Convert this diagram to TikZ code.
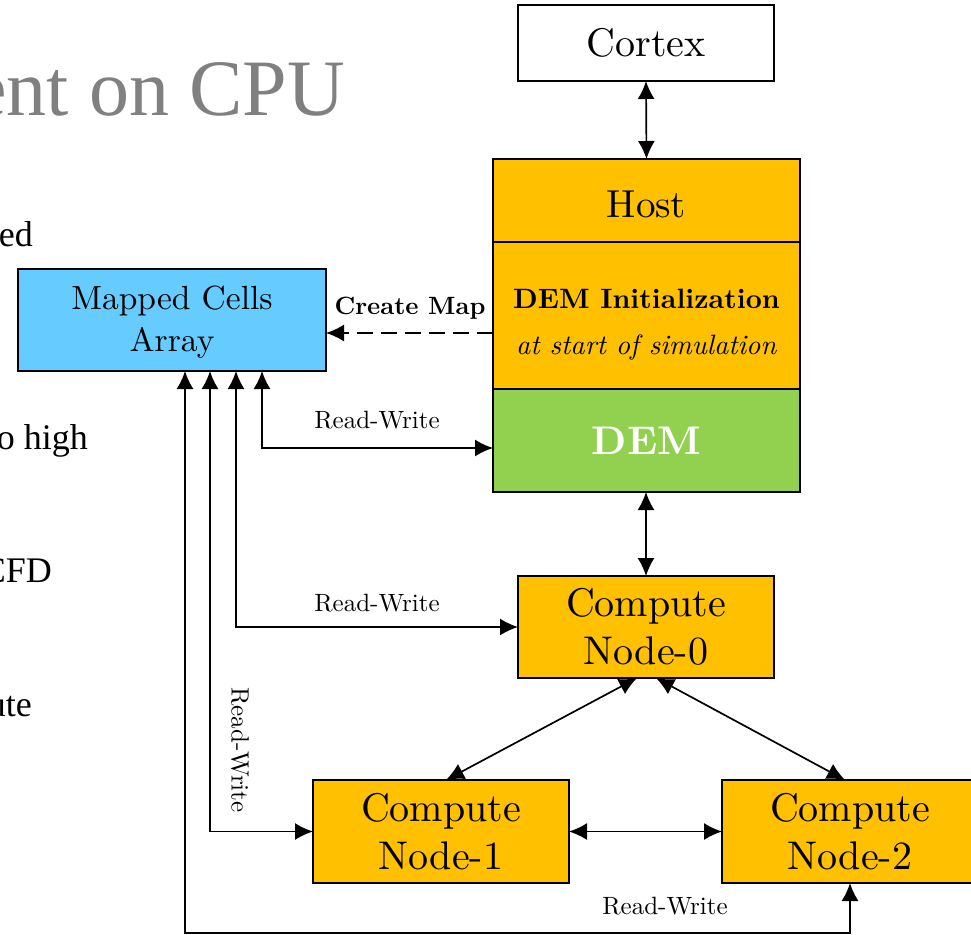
\documentclass[tikz,border=0pt]{standalone}
\usepackage{fontspec}
% one design size of Latin Modern for every text size
\setmainfont{lmroman10-regular.otf}[
  BoldFont=lmroman10-bold.otf,
  ItalicFont=lmroman10-italic.otf,
  BoldItalicFont=lmroman10-bolditalic.otf]
\newfontfamily\slidefont{Liberation Serif}
\usetikzlibrary{arrows.meta}
\definecolor{boxorange}{HTML}{FFC000}
\definecolor{boxgreen}{HTML}{92D050}
\definecolor{boxblue}{HTML}{66CCFF}
\definecolor{titlegray}{HTML}{808080}

\tikzset{
  blk/.style={draw=black, line width=1.7pt, inner sep=0pt, outer sep=0pt, align=center},
  tip/.tip={Latex[length=18pt,width=17pt]},
  conn/.style={line width=1.7pt, tip-tip},
  oneway/.style={line width=1.7pt, -tip},
  lbl/.style={font=\fontsize{25}{30}\selectfont, inner sep=0pt},
  slidetxt/.style={font=\slidefont\fontsize{36}{40}\selectfont, inner sep=0pt, anchor=base east},
}

\begin{document}
\begin{tikzpicture}[x=1pt,y=-1pt]
\useasboundingbox (0,0) rectangle (971,934);

% slide text behind the diagram
\node[font=\slidefont\fontsize{80}{90}\selectfont, text=titlegray, inner sep=0pt, anchor=base east] (title) at (345,115) {ent on CPU};
\node[slidetxt] (s1) at (33,246.5) {ed};
\node[slidetxt] (s2) at (88,449) {o high};
\node[slidetxt] (s3) at (52,582.7) {CFD};
\node[slidetxt] (s4) at (32,716.5) {ute};

% boxes
\node[blk, fill=white, minimum width=256pt, minimum height=76pt, font=\fontsize{40}{48}\selectfont] (cortex) at (646,43) {Cortex};
\node[blk, fill=boxorange, minimum width=307pt, minimum height=83pt, font=\fontsize{39}{48}\selectfont] (host) at (646.5,200.5) {\rule{0pt}{34pt}Host};
\node[blk, fill=boxorange, minimum width=307pt, minimum height=147pt, font=\fontsize{28}{46}\selectfont] (init) at (646.5,315.5) {\rule{0pt}{37pt}\textbf{DEM Initialization}\\ \textit{at start of simulation}};
\node[blk, fill=boxgreen, minimum width=307pt, minimum height=103pt, font=\fontsize{40}{48}\selectfont\bfseries, text=white] (dem) at (646.5,440.5) {DEM};
\node[blk, fill=boxblue, minimum width=308pt, minimum height=102pt, font=\fontsize{33.5}{42}\selectfont] (mapped) at (172,320) {\rule{0pt}{28.5pt}Mapped Cells\\Array};
\node[blk, fill=boxorange, minimum width=256pt, minimum height=102pt, font=\fontsize{40}{48}\selectfont] (cn0) at (646,627) {Compute\\Node-0};
\node[blk, fill=boxorange, minimum width=256pt, minimum height=103pt, font=\fontsize{40}{48}\selectfont] (cn1) at (441,831.5) {Compute\\Node-1};
\node[blk, fill=boxorange, minimum width=256pt, minimum height=103pt, font=\fontsize{40}{48}\selectfont] (cn2) at (850,831.5) {Compute\\Node-2};

% host chain
\draw[conn] (cortex.south) -- (host.north);
\draw[conn] (cn0.north |- dem.south) -- (cn0.north);
\draw[conn] ([xshift=-9pt]cn0.south) -- ([xshift=5pt]cn1.north);
\draw[conn] ([xshift=10pt]cn0.south) -- ([xshift=-5pt]cn2.north);
\draw[conn] (cn1.east) -- (cn2.west);

% map creation
\coordinate (cmstart) at ([yshift=-17.5pt]init.west);
\draw[oneway, dash pattern=on 16pt off 8pt] (cmstart) -- (cmstart -| mapped.east);
\node[font=\fontsize{25}{30}\selectfont\bfseries, inner sep=0pt] (cmlbl) at (410,308) {Create Map};

% read-write links to the mapped cells array
\coordinate (low) at (0,933);
\draw[conn] ([xshift=90pt]mapped.south) |- ([yshift=-7.5pt]dem.west);
\draw[conn] ([xshift=64pt]mapped.south) |- (cn0.west);
\draw[conn] ([xshift=38pt]mapped.south) |- (cn1.west);
\draw[conn] ([xshift=13pt]mapped.south) |- (cn2.south |- low) -- (cn2.south);
\node[lbl] (rw1) at (377,420) {Read-Write};
\node[lbl] (rw2) at (377,603) {Read-Write};
\node[lbl, rotate=-90] (rw3) at (240,750) {Read-Write};
\node[lbl] (rw4) at (665,906) {Read-Write};
\end{tikzpicture}
\end{document}
